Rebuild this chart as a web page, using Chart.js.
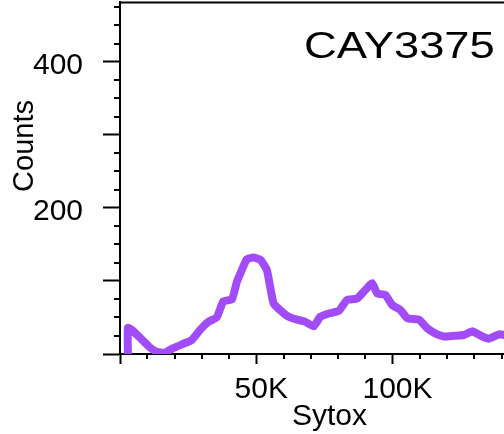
<!DOCTYPE html>
<html><head><meta charset="utf-8">
<script src="https://cdn.jsdelivr.net/npm/chart.js@4"></script>
<style>
html,body{margin:0;padding:0;background:#fff;overflow:hidden;}
#wrap{position:relative;width:556px;height:434px;}
</style></head><body>
<div id="wrap"><canvas id="c"></canvas></div>
<script>
// Data (Sytox in thousands, Counts)
const sytoxK = [2.9, 2.9, 4.3, 7.4, 10.7, 13.5, 16.5, 19.5, 23.2, 26.3, 29.4, 32.4, 35.5, 37.9, 41.1, 42.9, 44.7, 46.6, 49.0, 51.5, 53.9, 55.1, 56.4, 58.8, 61.9, 65.0, 68.0, 71.1, 73.5, 77.2, 80.3, 83.3, 87.0, 90.1, 92.5, 94.4, 97.4, 99.9, 103.0, 105.4, 109.7, 112.8, 115.8, 118.9, 122.6, 126.2, 129.3, 132.4, 135.4, 139.1, 141.2, 145, 150, 155, 160];
const counts = [0, 36, 33, 22, 10, 3, 2, 8, 14, 19, 33, 44, 50, 72, 75, 99, 115, 130, 132, 129, 115, 92, 69, 60, 51, 47, 44, 38, 51, 56, 59, 74, 76, 88, 97, 83, 81, 67, 60, 49, 47, 35, 28, 24, 25, 26, 31, 25, 21, 27, 26, 25, 23, 22, 20];
const xMajorTicks = [0, 50000, 100000, 150000];
const xTickValues = [50000, 100000];
const xTickText = ['50K', '100K'];
const yMajorTicks = [0, 100, 200, 300, 400];
const yTickValues = [200, 400];
const yTickText = ['200', '400'];
const sampleName = 'CAY3375';
const xTitle = 'Sytox';
const yTitle = 'Counts';

const FONT = '"Liberation Sans", Arial, sans-serif';

const decor = {
  id: 'decor',
  afterDraw(chart) {
    const {ctx, chartArea: a, scales: {x, y}} = chart;
    ctx.save();
    ctx.strokeStyle = '#000';
    ctx.lineWidth = 1.8;
    ctx.beginPath();
    ctx.moveTo(a.left, a.top + 0.5);
    ctx.lineTo(a.right + 5, a.top + 0.5);
    ctx.stroke();
    ctx.lineWidth = 2;
    ctx.beginPath();
    for (let v = 10000; v <= x.max; v += 10000) {
      if (v % 50000 === 0) continue;
      const px = Math.round(x.getPixelForValue(v));
      ctx.moveTo(px, a.bottom); ctx.lineTo(px, a.bottom + 5);
    }
    for (let v = 25; v <= y.max; v += 25) {
      if (v % 100 === 0) continue;
      const py = Math.round(y.getPixelForValue(v));
      ctx.moveTo(a.left, py); ctx.lineTo(a.left - 6, py);
    }
    ctx.stroke();
    ctx.fillStyle = '#000';
    // x title
    ctx.font = '30px ' + FONT;
    ctx.textAlign = 'center';
    ctx.textBaseline = 'alphabetic';
    ctx.fillText(xTitle, 329.5, 425);
    // y title
    ctx.save();
    ctx.font = '29px ' + FONT;
    ctx.translate(33, 146);
    ctx.rotate(-Math.PI / 2);
    ctx.fillText(yTitle, 0, 0);
    ctx.restore();
    // sample label
    ctx.save();
    ctx.font = '36px ' + FONT;
    ctx.textAlign = 'left';
    ctx.translate(304, 58);
    ctx.scale(1.26, 1);
    ctx.fillText(sampleName, 0, 0);
    ctx.restore();
    ctx.restore();
  }
};

new Chart(document.getElementById('c'), {
  type: 'line',
  data: {
    datasets: [{
      data: sytoxK.map((k, i) => ({x: k * 1000, y: counts[i]})),
      borderColor: '#a24cf9',
      borderWidth: 8,
      pointRadius: 0,
      tension: 0.15,
      fill: false,
      borderJoinStyle: 'round'
    }]
  },
  options: {
    responsive: true,
    maintainAspectRatio: false,
    animation: false,
    layout: {padding: {top: 2, left: 0, right: 0, bottom: 0}},
    plugins: {legend: {display: false}, tooltip: {enabled: false}, title: {display: false}},
    scales: {
      x: {
        type: 'linear', min: 0, max: 160000,
        afterBuildTicks(s) { s.ticks = xMajorTicks.map(v => ({value: v})); },
        afterFit(s) { s.height = 80; s.paddingLeft = 0; s.paddingRight = 0; },
        grid: {display: true, drawOnChartArea: false, drawTicks: true, tickLength: 10, tickWidth: 2, tickColor: '#000'},
        border: {display: true, color: '#000', width: 2},
        ticks: {
          autoSkip: false, maxRotation: 0,
          padding: 8, labelOffset: 5, color: '#000', font: {family: FONT, size: 30},
          callback(v) { const i = xTickValues.indexOf(v); return i >= 0 ? xTickText[i] : ''; }
        }
      },
      y: {
        type: 'linear', min: 0, max: 482,
        afterBuildTicks(s) { s.ticks = yMajorTicks.map(v => ({value: v})); },
        afterFit(s) { s.width = 120; s.paddingTop = 0; s.paddingBottom = 0; },
        grid: {display: true, drawOnChartArea: false, drawTicks: true, tickLength: 17, tickWidth: 2, tickColor: '#000'},
        border: {display: true, color: '#000', width: 2},
        ticks: {
          autoSkip: false,
          padding: 20, labelOffset: 4, color: '#000', font: {family: FONT, size: 30},
          callback(v) { const i = yTickValues.indexOf(v); return i >= 0 ? yTickText[i] : ''; }
        }
      }
    }
  },
  plugins: [decor]
});
</script>
</body></html>
